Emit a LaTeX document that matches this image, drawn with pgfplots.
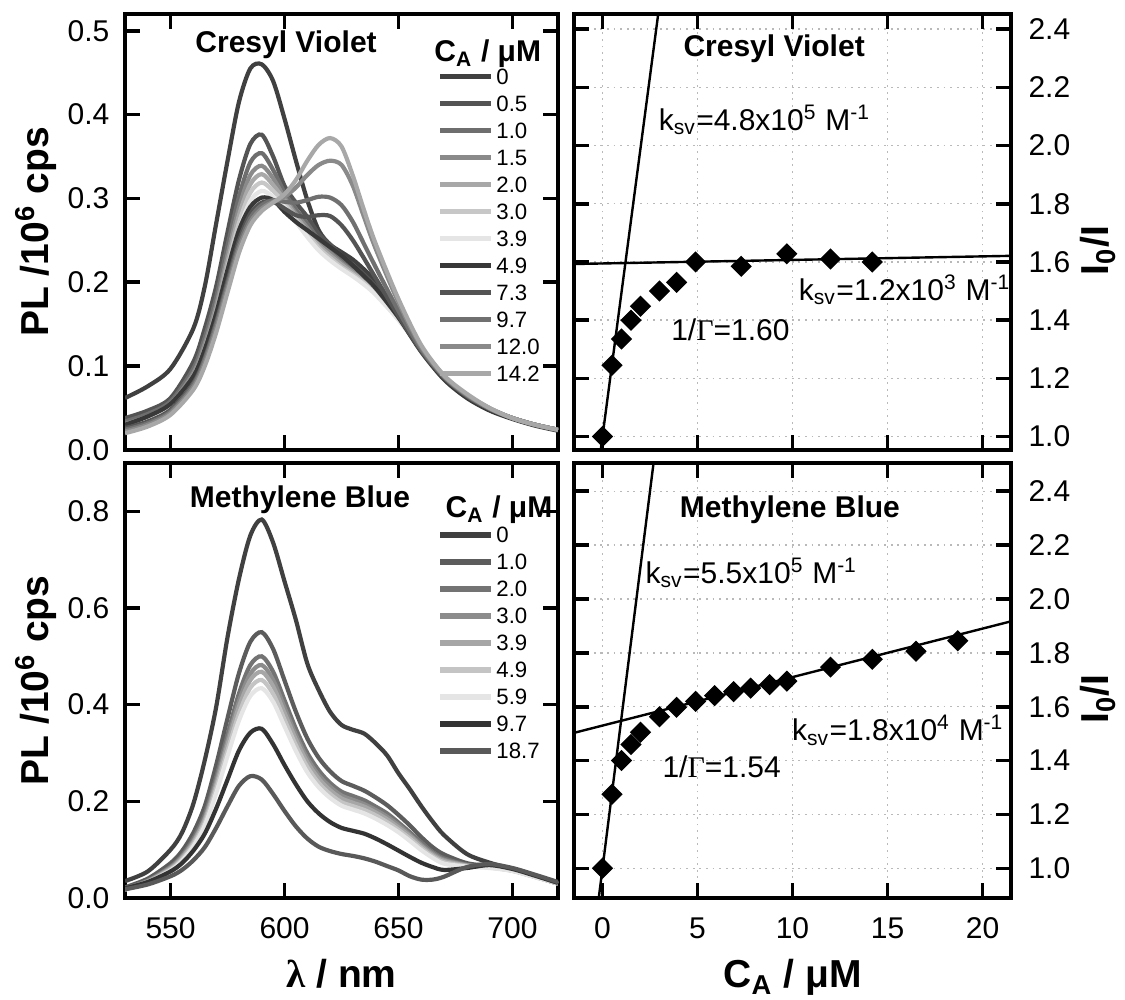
\documentclass[border=0pt]{standalone}
\usepackage{fontspec}
\setmainfont{Liberation Sans}
\newfontfamily\grk{Liberation Serif}
\usepackage{pgfplots}
\usepackage{pgfplotstable}
\pgfplotsset{compat=1.18}

\definecolor{a0}{gray}{0.25}
\definecolor{a1}{gray}{0.33}
\definecolor{a2}{gray}{0.43}
\definecolor{a3}{gray}{0.54}
\definecolor{a4}{gray}{0.66}
\definecolor{a5}{gray}{0.78}
\definecolor{a6}{gray}{0.90}
\definecolor{a7}{gray}{0.22}
\definecolor{a8}{gray}{0.33}
\definecolor{a9}{gray}{0.44}
\definecolor{a10}{gray}{0.54}
\definecolor{a11}{gray}{0.66}

\definecolor{b0}{gray}{0.25}
\definecolor{b1}{gray}{0.36}
\definecolor{b2}{gray}{0.45}
\definecolor{b3}{gray}{0.55}
\definecolor{b4}{gray}{0.65}
\definecolor{b5}{gray}{0.77}
\definecolor{b6}{gray}{0.90}
\definecolor{b7}{gray}{0.20}
\definecolor{b8}{gray}{0.35}

\pgfplotstableread{
lam c0 c05 c10 c15 c20 c30 c39 c49 c73 c97 c120 c142
530 .062 .038 .034 .031 .029 .027 .025 .030 .026 .024 .022 .020
540 .076 .047 .043 .040 .039 .037 .035 .040 .034 .032 .030 .028
550 .097 .062 .058 .055 .054 .052 .050 .055 .048 .046 .044 .042
560 .145 .105 .097 .092 .089 .085 .082 .088 .080 .078 .075 .072
565 .195 .145 .134 .127 .122 .117 .112 .120 .110 .108 .104 .100
570 .270 .195 .182 .173 .167 .161 .155 .163 .153 .150 .145 .140
575 .345 .260 .244 .233 .225 .218 .210 .215 .202 .198 .193 .188
580 .415 .322 .302 .289 .280 .271 .262 .262 .250 .245 .240 .235
585 .455 .365 .343 .328 .317 .307 .297 .290 .282 .277 .272 .268
590 .460 .376 .354 .339 .329 .319 .309 .301 .295 .292 .288 .285
595 .440 .350 .334 .324 .316 .309 .302 .298 .296 .298 .296 .295
600 .395 .315 .307 .301 .298 .294 .290 .284 .288 .296 .302 .305
605 .345 .295 .287 .282 .279 .275 .272 .272 .280 .295 .313 .322
610 .298 .278 .270 .265 .261 .258 .254 .262 .278 .298 .328 .345
615 .262 .258 .251 .247 .244 .241 .238 .252 .280 .302 .340 .364
620 .245 .245 .239 .235 .232 .229 .226 .242 .279 .301 .345 .372
625 .236 .232 .227 .223 .221 .218 .216 .232 .268 .292 .340 .362
630 .227 .221 .216 .213 .211 .209 .207 .220 .250 .272 .315 .327
635 .215 .209 .205 .202 .201 .199 .197 .207 .228 .245 .277 .285
640 .200 .195 .192 .190 .188 .187 .185 .193 .205 .218 .240 .246
650 .162 .160 .158 .157 .156 .156 .155 .158 .160 .166 .176 .180
660 .122 .122 .121 .121 .121 .120 .120 .117 .118 .120 .123 .125
670 .087 .088 .088 .087 .087 .087 .087 .084 .086 .087 .088 .089
680 .063 .065 .065 .065 .065 .065 .065 .062 .064 .065 .066 .067
690 .048 .049 .049 .049 .049 .049 .049 .047 .049 .049 .050 .050
700 .038 .038 .038 .038 .038 .038 .038 .037 .038 .038 .038 .038
710 .030 .030 .030 .030 .030 .030 .030 .029 .030 .030 .030 .030
720 .024 .024 .024 .024 .024 .024 .024 .023 .024 .024 .024 .024
}\cvtable

\pgfplotstableread{
lam m0 m10 m20 m30 m39 m49 m59 m97 m187
530 .035 .022 .020 .019 .019 .018 .017 .020 .018
540 .055 .040 .036 .035 .034 .033 .032 .033 .028
550 .100 .072 .065 .063 .061 .059 .057 .055 .045
555 .135 .097 .088 .085 .083 .080 .077 .072 .058
560 .195 .135 .123 .118 .115 .111 .107 .098 .078
565 .285 .190 .173 .166 .162 .156 .150 .133 .105
570 .395 .275 .250 .241 .234 .226 .217 .185 .145
575 .540 .372 .338 .326 .317 .305 .294 .245 .190
580 .660 .465 .423 .407 .396 .381 .367 .305 .232
585 .750 .530 .482 .464 .451 .435 .418 .342 .252
590 .783 .550 .500 .482 .468 .451 .434 .350 .245
595 .735 .515 .468 .451 .438 .422 .406 .318 .215
600 .655 .450 .409 .394 .383 .369 .355 .275 .180
605 .575 .385 .350 .337 .328 .316 .304 .235 .148
610 .485 .330 .300 .289 .281 .271 .260 .200 .123
615 .430 .290 .264 .254 .247 .238 .229 .175 .106
620 .385 .262 .238 .230 .223 .215 .207 .157 .097
625 .358 .242 .220 .212 .206 .198 .191 .145 .091
630 .348 .232 .211 .203 .197 .190 .183 .139 .087
635 .340 .222 .202 .194 .189 .182 .175 .133 .082
640 .320 .208 .189 .182 .177 .171 .164 .123 .075
645 .295 .192 .175 .168 .163 .157 .151 .111 .066
650 .258 .172 .156 .151 .146 .141 .136 .098 .057
655 .225 .150 .136 .131 .128 .123 .118 .085 .045
660 .190 .126 .115 .110 .107 .103 .099 .073 .038
665 .158 .105 .095 .092 .089 .086 .083 .064 .038
670 .130 .090 .082 .079 .077 .074 .071 .058 .044
680 .091 .072 .069 .068 .067 .066 .065 .062 .064
690 .073 .066 .065 .064 .064 .063 .062 .068 .070
700 .060 .058 .057 .057 .057 .056 .056 .060 .062
710 .045 .044 .044 .044 .044 .043 .043 .046 .048
720 .030 .030 .030 .030 .030 .030 .030 .031 .033
}\mbtable

\pgfplotsset{
  panel/.style={
    scale only axis, anchor=south west,
    axis line style={line width=1.6pt},
    tick align=inside, major tick length=5pt,
    tick style={black, line width=1.2pt},
    major tick style={black, line width=1.2pt},
    ticklabel style={font=\fontsize{10}{12}\selectfont},
    /pgf/number format/assume math mode=true,
    clip mode=individual,
    label style={font=\bfseries\fontsize{13}{15}\selectfont},
    xticklabel style={yshift=-3pt},
  },
  specpanel/.style={panel, width=144.33pt, xmin=530, xmax=720,
    xtick={550,600,650,700},
    yticklabel style={xshift=-1.67pt, /pgf/number format/.cd, fixed, fixed zerofill, precision=1},
    ylabel={PL /10\textsuperscript{6} cps},
    ylabel style={at={(axis description cs:-0.2056,0.5)}, anchor=center},
    legend cell align=left,
    legend image code/.code={\draw[##1, line width=1.9pt] (0pt,0pt) -- (17pt,0pt);},
    legend style={draw=none, fill=none, anchor=north west, inner sep=0pt,
      row sep=2.1pt, font=\fontsize{7.4}{8}\selectfont,
      nodes={inner sep=0.8pt, text height=5.3pt, text depth=0pt}},
  },
  svpanel/.style={panel, width=145.67pt, xmin=-1.5, xmax=21.5,
    xtick={0,5,10,15,20}, yticklabel pos=right,
    ytick={1,1.2,1.4,1.6,1.8,2,2.2,2.4},
    yticklabel style={xshift=2.3pt, /pgf/number format/.cd, fixed, fixed zerofill, precision=1},
    ylabel={I\textsubscript{0}/I},
    ylabel style={at={(axis description cs:1.199,0.457)}, anchor=center},
    grid=major, grid style={gray!55, line width=0.5pt, dash pattern=on 0.6pt off 1.6pt},
  },
  spec/.style={line width=1.4pt, smooth, no marks},
  dia/.style={only marks, mark=square*, mark size=2.3pt, mark options={rotate=45, black, fill=black}},
  fit/.style={black, line width=0.8pt, no marks},
}

\newcommand{\ttl}{\bfseries\fontsize{10}{12}\selectfont}
\newcommand{\ann}{\fontsize{10}{12}\selectfont}

\begin{document}
\begin{tikzpicture}
\useasboundingbox (0pt,0pt) rectangle (375pt,333.33pt);

% ---------------- top left: Cresyl Violet spectra
\begin{axis}[specpanel, at={(41.67pt,183.33pt)}, height=145.33pt,
  ymin=0, ymax=0.52, ytick={0,0.1,0.2,0.3,0.4,0.5}, xticklabels={},
  legend style={at={(axis description cs:0.72,0.882)}}]
\addplot[spec, color=a0] table[x=lam, y=c0] {\cvtable}; \addlegendentry{0}
\addplot[spec, color=a1] table[x=lam, y=c05] {\cvtable}; \addlegendentry{0.5}
\addplot[spec, color=a2] table[x=lam, y=c10] {\cvtable}; \addlegendentry{1.0}
\addplot[spec, color=a3] table[x=lam, y=c15] {\cvtable}; \addlegendentry{1.5}
\addplot[spec, color=a4] table[x=lam, y=c20] {\cvtable}; \addlegendentry{2.0}
\addplot[spec, color=a5] table[x=lam, y=c30] {\cvtable}; \addlegendentry{3.0}
\addplot[spec, color=a6] table[x=lam, y=c39] {\cvtable}; \addlegendentry{3.9}
\addplot[spec, color=a7] table[x=lam, y=c49] {\cvtable}; \addlegendentry{4.9}
\addplot[spec, color=a8] table[x=lam, y=c73] {\cvtable}; \addlegendentry{7.3}
\addplot[spec, color=a9] table[x=lam, y=c97] {\cvtable}; \addlegendentry{9.7}
\addplot[spec, color=a10] table[x=lam, y=c120] {\cvtable}; \addlegendentry{12.0}
\addplot[spec, color=a11] table[x=lam, y=c142] {\cvtable}; \addlegendentry{14.2}
\node[font=\ttl, anchor=base] at (axis description cs:0.372,0.912) {Cresyl Violet};
\node[font=\ttl, anchor=base west] at (axis description cs:0.69,0.89) {C\textsubscript{A} / μM};
\end{axis}

% ---------------- bottom left: Methylene Blue spectra
\begin{axis}[specpanel, at={(41.67pt,34pt)}, height=145pt,
  ymin=0, ymax=0.9, ytick={0,0.2,0.4,0.6,0.8},
  xlabel={{\grk λ} / nm},
  xlabel style={at={(axis description cs:0.5,0)}, anchor=base, yshift=-30pt},
  legend style={at={(axis description cs:0.72,0.860)}}]
\addplot[spec, color=b0] table[x=lam, y=m0] {\mbtable}; \addlegendentry{0}
\addplot[spec, color=b1] table[x=lam, y=m10] {\mbtable}; \addlegendentry{1.0}
\addplot[spec, color=b2] table[x=lam, y=m20] {\mbtable}; \addlegendentry{2.0}
\addplot[spec, color=b3] table[x=lam, y=m30] {\mbtable}; \addlegendentry{3.0}
\addplot[spec, color=b4] table[x=lam, y=m39] {\mbtable}; \addlegendentry{3.9}
\addplot[spec, color=b5] table[x=lam, y=m49] {\mbtable}; \addlegendentry{4.9}
\addplot[spec, color=b6] table[x=lam, y=m59] {\mbtable}; \addlegendentry{5.9}
\addplot[spec, color=b7] table[x=lam, y=m97] {\mbtable}; \addlegendentry{9.7}
\addplot[spec, color=b8] table[x=lam, y=m187] {\mbtable}; \addlegendentry{18.7}
\node[font=\ttl, anchor=base] at (axis description cs:0.404,0.897) {Methylene Blue};
\node[font=\ttl, anchor=base west] at (axis description cs:0.716,0.874) {C\textsubscript{A} / μM};
\end{axis}

% ---------------- top right: Stern-Volmer Cresyl Violet
\begin{axis}[svpanel, at={(191.33pt,183.33pt)}, height=145.33pt,
  ymin=0.954, ymax=2.452, xticklabels={}]
\addplot[fit] coordinates {(-0.2,0.901) (3.5,2.733)};
\addplot[fit] coordinates {(-1.5,1.593) (21.5,1.621)};
\addplot[dia] coordinates {(0,1.0) (0.5,1.245) (1.0,1.335) (1.5,1.40) (2.0,1.448)
  (3.0,1.50) (3.9,1.53) (4.9,1.60) (7.3,1.585) (9.7,1.628) (12.0,1.61) (14.2,1.60)};
\node[font=\ttl, anchor=base] at (axis description cs:0.458,0.902) {Cresyl Violet};
\node[font=\ann, anchor=base west, inner sep=0pt] at (axis cs:2.93,2.053) {k\textsubscript{sv}=4.8x10\textsuperscript{5} M\textsuperscript{-1}};
\node[font=\ann, anchor=base west, inner sep=0pt] at (axis cs:10.31,1.469) {k\textsubscript{sv}=1.2x10\textsuperscript{3} M\textsuperscript{-1}};
\node[font=\ann, anchor=base west, inner sep=0pt] at (axis cs:3.59,1.33) {1/{\grk Γ}=1.60};
\end{axis}

% ---------------- bottom right: Stern-Volmer Methylene Blue
\begin{axis}[svpanel, at={(191.33pt,34pt)}, height=145pt,
  ymin=0.89, ymax=2.505,
  xlabel={C\textsubscript{A} / μM},
  xlabel style={at={(axis description cs:0.5,0)}, anchor=base, yshift=-30pt}]
\addplot[fit] coordinates {(-0.2,0.888) (3.0,2.68)};
\addplot[fit] coordinates {(-1.5,1.503) (21.5,1.917)};
\addplot[dia] coordinates {(0,1.0) (0.5,1.275) (1.0,1.40) (1.5,1.46) (2.0,1.505)
  (3.0,1.563) (3.9,1.598) (4.9,1.62) (5.9,1.641) (6.9,1.656) (7.8,1.669) (8.8,1.682)
  (9.7,1.695) (12.0,1.747) (14.2,1.776) (16.5,1.806) (18.7,1.845)};
\node[font=\ttl, anchor=base] at (axis description cs:0.494,0.874) {Methylene Blue};
\node[font=\ann, anchor=base west, inner sep=0pt] at (axis cs:2.24,2.059) {k\textsubscript{sv}=5.5x10\textsuperscript{5} M\textsuperscript{-1}};
\node[font=\ann, anchor=base west, inner sep=0pt] at (axis cs:9.95,1.474) {k\textsubscript{sv}=1.8x10\textsuperscript{4} M\textsuperscript{-1}};
\node[font=\ann, anchor=base west, inner sep=0pt] at (axis cs:3.13,1.338) {1/{\grk Γ}=1.54};
\end{axis}
\end{tikzpicture}
\end{document}
